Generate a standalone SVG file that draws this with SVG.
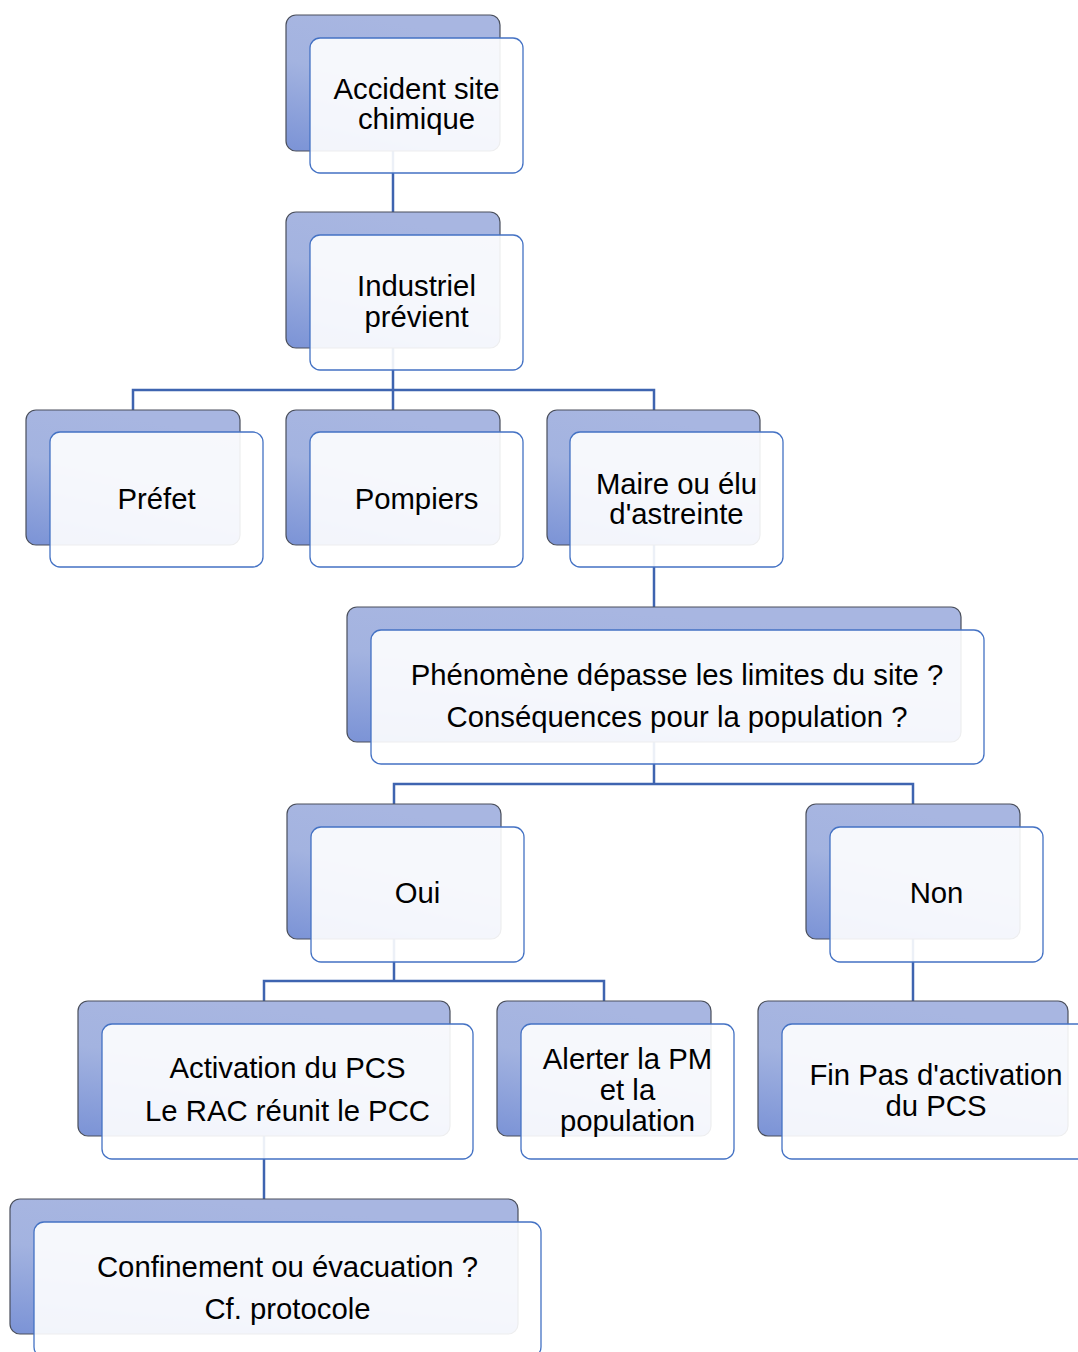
<svg xmlns="http://www.w3.org/2000/svg" width="1078" height="1352" viewBox="0 0 1078 1352">
<defs>
<linearGradient id="g" x1="0" y1="1" x2="0.35" y2="0">
<stop offset="0" stop-color="#7b93d6"/>
<stop offset="0.6" stop-color="#a3b3e0"/>
<stop offset="1" stop-color="#a8b6e1"/>
</linearGradient>
<style>
.b{fill:url(#g);stroke:#4a4f5c;stroke-width:1.2}
.f{fill:#ffffff;fill-opacity:0.9;stroke:#4472c4;stroke-width:1.3}
.c{fill:none;stroke:#3e64b0;stroke-width:2.5}
text{font-family:"Liberation Sans",Arial,sans-serif;font-size:29.3px;fill:#000;text-anchor:middle}
</style>
</defs>
<rect width="1078" height="1352" fill="#fff"/>
<g id="connectors">
<path class="c" d="M393 151V212"/>
<path class="c" d="M393 348V390M133 410V390H654V410M393 390V410"/>
<path class="c" d="M654 545V607"/>
<path class="c" d="M654 742V784M394 804V784H913V804"/>
<path class="c" d="M394 939V981M264 1001V981H604V1001"/>
<path class="c" d="M913 939V1001"/>
<path class="c" d="M264 1136V1199"/>
</g>
<g id="n1">
<rect class="b" x="286" y="15" width="214" height="136" rx="10"/>
<rect class="f" x="310" y="38" width="213" height="135" rx="10"/>
<text x="416.5" y="99">Accident site</text>
<text x="416.5" y="129">chimique</text>
</g>
<g id="n2">
<rect class="b" x="286" y="212" width="214" height="136" rx="10"/>
<rect class="f" x="310" y="235" width="213" height="135" rx="10"/>
<text x="416.5" y="296">Industriel</text>
<text x="416.5" y="327">prévient</text>
</g>
<g id="n3">
<rect class="b" x="26" y="410" width="214" height="135" rx="10"/>
<rect class="f" x="50" y="432" width="213" height="135" rx="10"/>
<text x="156.5" y="509">Préfet</text>
</g>
<g id="n4">
<rect class="b" x="286" y="410" width="214" height="135" rx="10"/>
<rect class="f" x="310" y="432" width="213" height="135" rx="10"/>
<text x="416.5" y="509">Pompiers</text>
</g>
<g id="n5">
<rect class="b" x="547" y="410" width="213" height="135" rx="10"/>
<rect class="f" x="570" y="432" width="213" height="135" rx="10"/>
<text x="676.5" y="494">Maire ou élu</text>
<text x="676.5" y="524">d'astreinte</text>
</g>
<g id="n6">
<rect class="b" x="347" y="607" width="614" height="135" rx="10"/>
<rect class="f" x="371" y="630" width="613" height="134" rx="10"/>
<text x="677" y="685">Phénomène dépasse les limites du site ?</text>
<text x="677" y="727">Conséquences pour la population ?</text>
</g>
<g id="n7">
<rect class="b" x="287" y="804" width="214" height="135" rx="10"/>
<rect class="f" x="311" y="827" width="213" height="135" rx="10"/>
<text x="417.5" y="903">Oui</text>
</g>
<g id="n8">
<rect class="b" x="806" y="804" width="214" height="135" rx="10"/>
<rect class="f" x="830" y="827" width="213" height="135" rx="10"/>
<text x="936.5" y="903">Non</text>
</g>
<g id="n9">
<rect class="b" x="78" y="1001" width="372" height="135" rx="10"/>
<rect class="f" x="102" y="1024" width="371" height="135" rx="10"/>
<text x="287.5" y="1078">Activation du PCS</text>
<text x="287.5" y="1121">Le RAC réunit le PCC</text>
</g>
<g id="n10">
<rect class="b" x="497" y="1001" width="214" height="135" rx="10"/>
<rect class="f" x="521" y="1024" width="213" height="135" rx="10"/>
<text x="627.5" y="1069">Alerter la PM</text>
<text x="627.5" y="1100">et la</text>
<text x="627.5" y="1131">population</text>
</g>
<g id="n11">
<rect class="b" x="758" y="1001" width="310" height="135" rx="10"/>
<rect class="f" x="782" y="1024" width="308" height="135" rx="10"/>
<text x="936" y="1085">Fin Pas d'activation</text>
<text x="936" y="1116">du PCS</text>
</g>
<g id="n12">
<rect class="b" x="10" y="1199" width="508" height="135" rx="10"/>
<rect class="f" x="34" y="1222" width="507" height="135" rx="10"/>
<text x="287.5" y="1277">Confinement ou évacuation ?</text>
<text x="287.5" y="1319">Cf. protocole</text>
</g>
</svg>
